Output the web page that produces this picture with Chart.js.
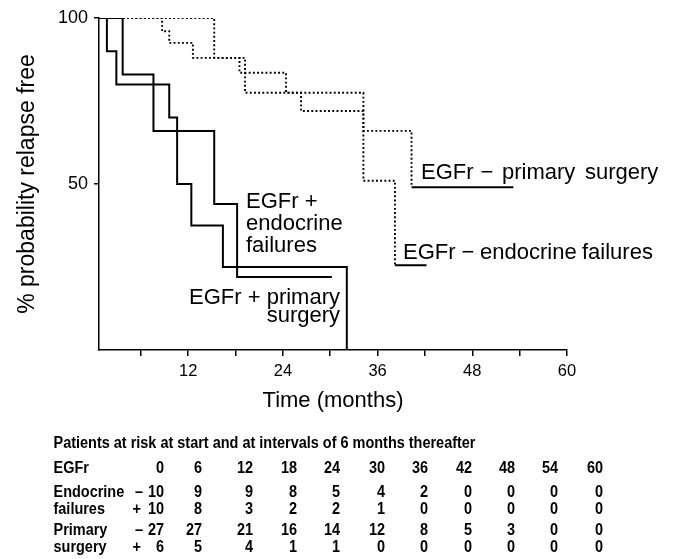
<!DOCTYPE html>
<html>
<head>
<meta charset="utf-8">
<script src="https://cdn.jsdelivr.net/npm/chart.js@4.4.1/dist/chart.umd.min.js"></script>
<style>
  html, body { margin: 0; padding: 0; background: #fff; }
  #wrap { width: 675px; height: 559px; }
</style>
</head>
<body>
<div id="wrap"><canvas id="c" width="675" height="559"></canvas></div>
<script>
// ---------- DATA ----------
// Kaplan–Meier curves: event times (months) and % relapse free after each step
const endoPlusTime   = [0, 1.7, 2.9, 9.6, 10.6, 12.4, 16.4, 32.1];
const endoPlusPct    = [100, 90, 80, 70, 50, 37.5, 25, 0];

const primPlusTime   = [0, 3.7, 7.6, 15.3, 18.2, 30.2];
const primPlusPct    = [100, 83, 66, 44, 22, 22];

const primMinusTime  = [0, 8.7, 9.6, 12.6, 18.5, 24.4, 26.3, 34.2, 40.3];
const primMinusPct   = [100, 96, 92.5, 88, 83.5, 77.5, 72, 66, 49];
const primMinusTailTime = [40.3, 53.2];
const primMinusTailPct  = [49, 49];

const endoMinusTime  = [0, 15.3, 19.2, 34.2, 38.2];
const endoMinusPct   = [100, 88, 77.5, 51, 25.5];
const endoMinusTailTime = [38.2, 42.2];
const endoMinusTailPct  = [25.5, 25.5];

// axis ticks
const xTickValues = [6, 12, 18, 24, 30, 36, 42, 48, 54, 60];
const xTickLabelled = [12, 24, 36, 48, 60];
const yTickValues = [50, 100];

// patients-at-risk table
const riskTitle = "Patients at risk at start and at intervals of 6 months thereafter";
const riskMonths = [0, 6, 12, 18, 24, 30, 36, 42, 48, 54, 60];
const riskEndoMinus = [10, 9, 9, 8, 5, 4, 2, 0, 0, 0, 0];
const riskEndoPlus  = [10, 8, 3, 2, 2, 1, 0, 0, 0, 0, 0];
const riskPrimMinus = [27, 27, 21, 16, 14, 12, 8, 5, 3, 0, 0];
const riskPrimPlus  = [6, 5, 4, 1, 1, 0, 0, 0, 0, 0, 0];

// ---------- build ----------
const pts = (t, v) => t.map((x, i) => ({ x: x, y: v[i] }));
const solid = { borderColor: '#000', borderWidth: 2, pointRadius: 0, fill: false, stepped: 'before', tension: 0 };
const dotted = Object.assign({}, solid, { borderWidth: 1.9, borderDash: [1.9, 2.3] });

const datasets = [
  Object.assign({ label: 'EGFr + endocrine failures', data: pts(endoPlusTime, endoPlusPct) }, solid),
  Object.assign({ label: 'EGFr + primary surgery', data: pts(primPlusTime, primPlusPct) }, solid),
  Object.assign({ label: 'EGFr − primary surgery', data: pts(primMinusTime, primMinusPct) }, dotted),
  Object.assign({ label: 'EGFr − primary surgery (end)', data: pts(primMinusTailTime, primMinusTailPct) }, solid),
  Object.assign({ label: 'EGFr − endocrine failures', data: pts(endoMinusTime, endoMinusPct) }, dotted),
  Object.assign({ label: 'EGFr − endocrine failures (end)', data: pts(endoMinusTailTime, endoMinusTailPct) }, solid)
];

const FONT = '"Liberation Sans", Arial, Helvetica, sans-serif';

// curve labels (layout only)
const curveLabels = [
  { text: 'EGFr +', x: 246, y: 208, align: 'left' },
  { text: 'endocrine', x: 246, y: 230, align: 'left' },
  { text: 'failures', x: 246, y: 252, align: 'left' },
  { text: 'EGFr + primary', x: 340, y: 304, align: 'right' },
  { text: 'surgery', x: 340, y: 322, align: 'right' },
  { text: 'EGFr', x: 421, y: 179, align: 'left' },
  { text: '−', x: 487, y: 179, align: 'center' },
  { text: 'primary', x: 502, y: 179, align: 'left' },
  { text: 'surgery', x: 585, y: 179, align: 'left' },
  { text: 'EGFr', x: 403, y: 259, align: 'left' },
  { text: '−', x: 468, y: 259, align: 'center' },
  { text: 'endocrine', x: 480, y: 259, align: 'left' },
  { text: 'failures', x: 582, y: 259, align: 'left' }
];

// table layout
const tableLeft = 53.5;
const tableTitleWidth = 422;
const tableColRight = [164, 202, 253, 297, 340, 385, 428, 472, 515, 558, 603];

const overlay = {
  id: 'overlay',
  afterDraw(chart) {
    const ctx = chart.ctx;
    ctx.save();
    ctx.fillStyle = '#000';
    ctx.textBaseline = 'alphabetic';
    ctx.font = '22px ' + FONT;
    curveLabels.forEach(l => { ctx.textAlign = l.align; ctx.fillText(l.text, l.x, l.y); });

    // table (bold, horizontally condensed)
    ctx.font = 'bold 16px ' + FONT;
    ctx.textAlign = 'left';
    const sx = tableTitleWidth / ctx.measureText(riskTitle).width;
    const put = (text, x, y, align) => {
      ctx.save();
      ctx.translate(x, y);
      ctx.scale(sx, 1);
      ctx.textAlign = align;
      ctx.fillText(text, 0, 0);
      ctx.restore();
    };
    put(riskTitle, tableLeft, 448, 'left');
    const drawRow = (label, sign, signX, vals, y) => {
      put(label, tableLeft, y, 'left');
      if (sign) put(sign, signX, y, 'center');
      vals.forEach((v, i) => put(String(v), tableColRight[i], y, 'right'));
    };
    drawRow('EGFr', '', 0, riskMonths, 473);
    drawRow('Endocrine', '–', 139, riskEndoMinus, 496.5);
    drawRow('failures', '+', 136.7, riskEndoPlus, 513.5);
    drawRow('Primary', '–', 139, riskPrimMinus, 535);
    drawRow('surgery', '+', 136.7, riskPrimPlus, 551.5);
    ctx.restore();
  }
};

new Chart(document.getElementById('c'), {
  type: 'line',
  data: { datasets },
  options: {
    responsive: false,
    animation: false,
    events: [],
    layout: { padding: { left: 0, right: 108, top: 18, bottom: 139 } },
    plugins: { legend: { display: false }, tooltip: { enabled: false } },
    scales: {
      x: {
        type: 'linear', min: 0.7, max: 60,
        afterBuildTicks: s => { s.ticks = xTickValues.map(v => ({ value: v })); },
        afterFit: s => { s.height = 70; },
        ticks: {
          autoSkip: false, maxRotation: 0, padding: 6, color: '#000',
          font: { family: FONT, size: 16.5 },
          callback: v => xTickLabelled.includes(v) ? String(v) : ''
        },
        grid: { drawOnChartArea: false, drawTicks: true, tickLength: 6, color: '#000', lineWidth: 1.5 },
        border: { display: true, color: '#000', width: 1.5 },
        title: { display: true, text: 'Time (months)', color: '#000', font: { family: FONT, size: 22 }, padding: { top: 0, bottom: 6 } }
      },
      y: {
        type: 'linear', min: 0, max: 100,
        afterBuildTicks: s => { s.ticks = yTickValues.map(v => ({ value: v })); },
        afterFit: s => { s.width = 99; },
        ticks: { padding: 6, color: '#000', font: { family: FONT, size: 18 } },
        grid: { drawOnChartArea: false, drawTicks: true, tickLength: 5, color: '#000', lineWidth: 1.5 },
        border: { display: true, color: '#000', width: 1.5 },
        title: { display: true, text: '% probability relapse free', color: '#000', font: { family: FONT, size: 23 }, padding: { top: 14, bottom: 0 } }
      }
    }
  },
  plugins: [overlay]
});
</script>
</body>
</html>
